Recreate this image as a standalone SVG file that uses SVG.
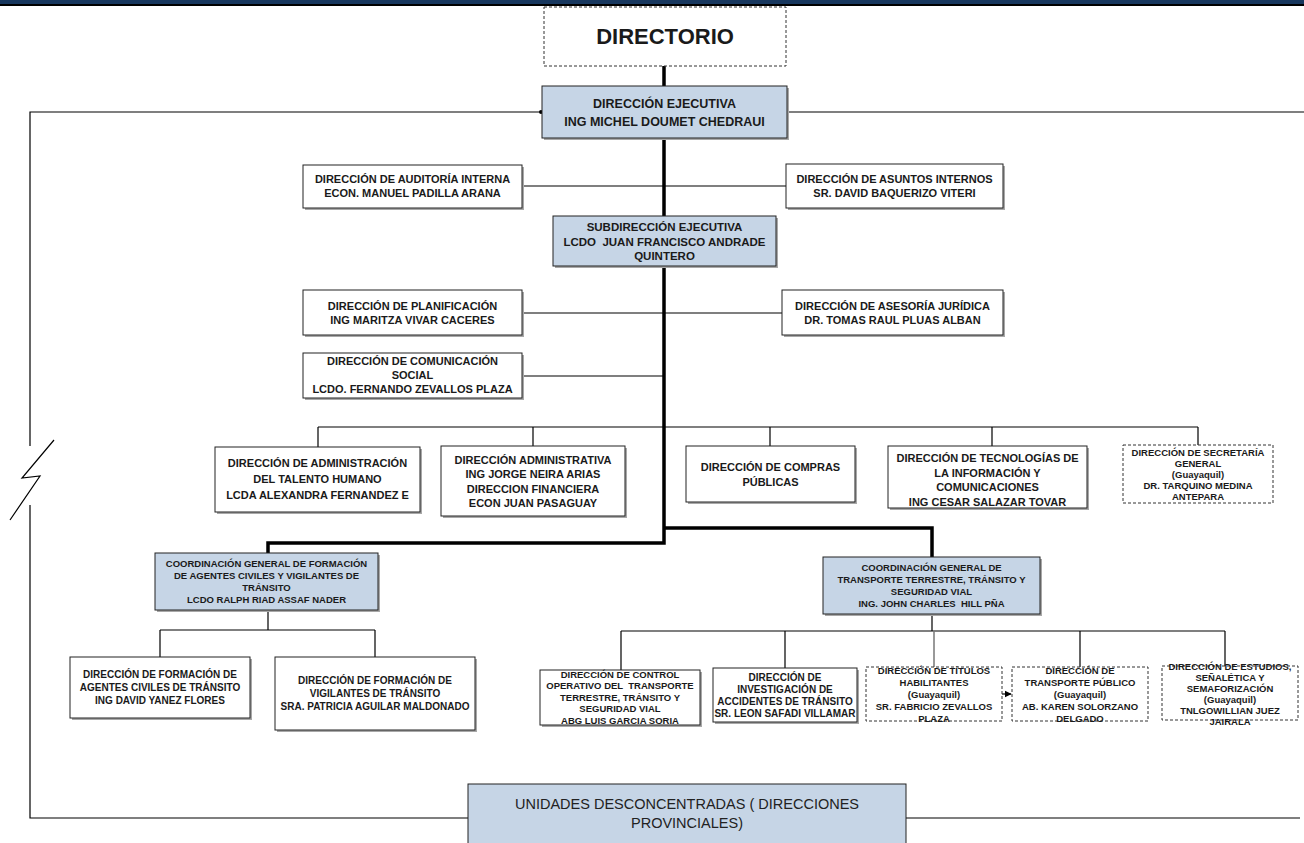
<svg xmlns="http://www.w3.org/2000/svg" width="1304" height="843" viewBox="0 0 1304 843">
<style>
.t{font-family:"Liberation Sans",Arial,sans-serif;font-weight:bold;fill:#1a1a1a;text-anchor:middle}
.s22{font-size:22px}.s125{font-size:12.5px}.s115{font-size:11.5px}.s11{font-size:11px}.s10{font-size:10px}.s95{font-size:9.5px}
.u{font-family:"Liberation Sans",Arial,sans-serif;font-size:14.5px;fill:#222;text-anchor:middle}
.box{fill:#fff;stroke:#222;stroke-width:1}
.blue{fill:#C6D5E6;stroke:#222;stroke-width:1}
.dash{fill:#fff;stroke:#333;stroke-width:1;stroke-dasharray:3 2}
.shd{fill:#a8a8a8}
.ln{stroke:#000;stroke-width:1.2;fill:none}
.gl{stroke:#777;stroke-width:1.5;fill:none}
.thick{stroke:#000;stroke-width:3.5;fill:none}
</style>
<defs>
<marker id="arr" viewBox="0 0 10 10" refX="9" refY="5" markerWidth="6" markerHeight="6" orient="auto"><path d="M0,0 L10,5 L0,10 z" fill="#000"/></marker>
</defs>
<rect x="0" y="0" width="1304" height="4" fill="#17375E"/>
<rect x="0" y="4" width="1304" height="2" fill="#000"/>

<g id="connectors">
<path class="thick" d="M664,66 V86 M664,138 V543 H268 V553 M664,528 H932 V557"/>
<path class="ln" d="M542,112 H30 V446 M54,440 L22,478 L40,476 L10,520 M30,505 V818 H468"/>
<circle cx="541" cy="112" r="2" fill="#000"/>
<path class="ln" d="M787,112 H1304 M906,818 H1300"/>
<path class="ln" d="M522,186 H786 M522,313 H782 M522,376 H664"/>
<path class="ln" d="M318,427 H1198 M318,427 V447 M533,427 V446 M770,427 V446 M992,427 V446 M1198,427 V445"/>
<path class="ln" d="M268,610 V630 M160,630 H375 M160,630 V657 M375,630 V657"/>
<path class="ln" d="M932,614 V631 M621,631 H1225 M621,631 V670 M785,631 V668 M1080,631 V667 M1225,631 V666"/>
<path class="gl" d="M934,631 V667"/>
<path class="ln" d="M1002,694 H1011" marker-end="url(#arr)"/>
</g>

<g id="directorio">
<rect class="dash" x="544" y="7" width="242" height="59"/>
<text class="t s22" x="665" y="44">DIRECTORIO</text>
</g>

<g id="ejecutiva">
<rect class="shd" x="544" y="88" width="245" height="52"/>
<rect class="blue" x="542" y="86" width="245" height="52"/>
<text class="t s125"><tspan x="664.5" y="108">DIRECCIÓN EJECUTIVA</tspan><tspan x="664.5" y="126">ING MICHEL DOUMET CHEDRAUI</tspan></text>
</g>

<g id="auditoria">
<rect class="shd" x="305" y="167" width="219" height="43"/>
<rect class="box" x="303" y="165" width="219" height="43"/>
<text class="t s11"><tspan x="412.5" y="183">DIRECCIÓN DE AUDITORÍA INTERNA</tspan><tspan x="412.5" y="197">ECON. MANUEL PADILLA ARANA</tspan></text>
</g>

<g id="asuntos">
<rect class="shd" x="788" y="166" width="217" height="44"/>
<rect class="box" x="786" y="164" width="217" height="44"/>
<text class="t s11"><tspan x="894.5" y="183">DIRECCIÓN DE ASUNTOS INTERNOS</tspan><tspan x="894.5" y="197">SR. DAVID BAQUERIZO VITERI</tspan></text>
</g>

<g id="subdireccion">
<rect class="shd" x="555" y="218" width="223" height="50"/>
<rect class="blue" x="553" y="216" width="223" height="50"/>
<text class="t s115" xml:space="preserve"><tspan x="664.5" y="231">SUBDIRECCIÓN EJECUTIVA</tspan><tspan x="664.5" y="245.5">LCDO  JUAN FRANCISCO ANDRADE</tspan><tspan x="664.5" y="260">QUINTERO</tspan></text>
</g>

<g id="planificacion">
<rect class="shd" x="305" y="292" width="219" height="45"/>
<rect class="box" x="303" y="290" width="219" height="45"/>
<text class="t s11"><tspan x="412.5" y="309.5">DIRECCIÓN DE PLANIFICACIÓN</tspan><tspan x="412.5" y="323.5">ING MARITZA VIVAR CACERES</tspan></text>
</g>

<g id="asesoria">
<rect class="shd" x="784" y="292" width="221" height="45"/>
<rect class="box" x="782" y="290" width="221" height="45"/>
<text class="t s11"><tspan x="892.5" y="309.5">DIRECCIÓN DE ASESORÍA JURÍDICA</tspan><tspan x="892.5" y="323.5">DR. TOMAS RAUL PLUAS ALBAN</tspan></text>
</g>

<g id="comunicacion">
<rect class="shd" x="305" y="355" width="219" height="45"/>
<rect class="box" x="303" y="353" width="219" height="45"/>
<text class="t s11"><tspan x="412.5" y="365">DIRECCIÓN DE COMUNICACIÓN</tspan><tspan x="412.5" y="379">SOCIAL</tspan><tspan x="412.5" y="393">LCDO. FERNANDO ZEVALLOS PLAZA</tspan></text>
</g>

<g id="talento">
<rect class="shd" x="217" y="449" width="205" height="65"/>
<rect class="box" x="215" y="447" width="205" height="65"/>
<text class="t s11"><tspan x="317.5" y="467">DIRECCIÓN DE ADMINISTRACIÓN</tspan><tspan x="317.5" y="483">DEL TALENTO HUMANO</tspan><tspan x="317.5" y="499">LCDA ALEXANDRA FERNANDEZ E</tspan></text>
</g>

<g id="administrativa">
<rect class="shd" x="443" y="448" width="184" height="70"/>
<rect class="box" x="441" y="446" width="184" height="70"/>
<text class="t s11"><tspan x="533" y="463.5">DIRECCIÓN ADMINISTRATIVA</tspan><tspan x="533" y="478">ING JORGE NEIRA ARIAS</tspan><tspan x="533" y="492.5">DIRECCION FINANCIERA</tspan><tspan x="533" y="507">ECON JUAN PASAGUAY</tspan></text>
</g>

<g id="compras">
<rect class="shd" x="688" y="448" width="169" height="56"/>
<rect class="box" x="686" y="446" width="169" height="56"/>
<text class="t s11"><tspan x="770.5" y="470.5">DIRECCIÓN DE COMPRAS</tspan><tspan x="770.5" y="485.5">PÚBLICAS</tspan></text>
</g>

<g id="tic">
<rect class="shd" x="890" y="448" width="199" height="62"/>
<rect class="box" x="888" y="446" width="199" height="62"/>
<text class="t s11"><tspan x="987.5" y="462">DIRECCIÓN DE TECNOLOGÍAS DE</tspan><tspan x="987.5" y="476.5">LA INFORMACIÓN Y</tspan><tspan x="987.5" y="491">COMUNICACIONES</tspan><tspan x="987.5" y="505.5">ING CESAR SALAZAR TOVAR</tspan></text>
</g>

<g id="secretaria">
<rect class="dash" x="1123" y="445" width="150" height="58"/>
<text class="t s95"><tspan x="1198" y="455.5">DIRECCIÓN DE SECRETARÍA</tspan><tspan x="1198" y="466.5">GENERAL</tspan><tspan x="1198" y="477.5">(Guayaquil)</tspan><tspan x="1198" y="488.5">DR. TARQUINO MEDINA</tspan><tspan x="1198" y="499.5">ANTEPARA</tspan></text>
</g>

<g id="coord-formacion">
<rect class="shd" x="157" y="555" width="223" height="57"/>
<rect class="blue" x="155" y="553" width="223" height="57"/>
<text class="t s95"><tspan x="266.5" y="566.5">COORDINACIÓN GENERAL DE FORMACIÓN</tspan><tspan x="266.5" y="578.5">DE AGENTES CIVILES Y VIGILANTES DE</tspan><tspan x="266.5" y="590.5">TRÁNSITO</tspan><tspan x="266.5" y="602.5">LCDO RALPH RIAD ASSAF NADER</tspan></text>
</g>

<g id="agentes">
<rect class="shd" x="72" y="659" width="180" height="61"/>
<rect class="box" x="70" y="657" width="180" height="61"/>
<text class="t s10"><tspan x="160" y="678">DIRECCIÓN DE FORMACIÓN DE</tspan><tspan x="160" y="691">AGENTES CIVILES DE TRÁNSITO</tspan><tspan x="160" y="704">ING DAVID YANEZ FLORES</tspan></text>
</g>

<g id="vigilantes">
<rect class="shd" x="277" y="659" width="200" height="73"/>
<rect class="box" x="275" y="657" width="200" height="73"/>
<text class="t s10"><tspan x="375" y="684">DIRECCIÓN DE FORMACIÓN DE</tspan><tspan x="375" y="697">VIGILANTES DE TRÁNSITO</tspan><tspan x="375" y="710">SRA. PATRICIA AGUILAR MALDONADO</tspan></text>
</g>

<g id="coord-transporte">
<rect class="shd" x="825" y="559" width="217" height="57"/>
<rect class="blue" x="823" y="557" width="217" height="57"/>
<text class="t s95" xml:space="preserve"><tspan x="931.5" y="571">COORDINACIÓN GENERAL DE</tspan><tspan x="931.5" y="583">TRANSPORTE TERRESTRE, TRÁNSITO Y</tspan><tspan x="931.5" y="595">SEGURIDAD VIAL</tspan><tspan x="931.5" y="607">ING. JOHN CHARLES  HILL PÑA</tspan></text>
</g>

<g id="control">
<rect class="shd" x="542" y="672" width="160" height="55"/>
<rect class="box" x="540" y="670" width="160" height="55"/>
<text class="t s95" xml:space="preserve"><tspan x="620" y="677.5">DIRECCIÓN DE CONTROL</tspan><tspan x="620" y="689">OPERATIVO DEL  TRANSPORTE</tspan><tspan x="620" y="700.5">TERRESTRE, TRÁNSITO Y</tspan><tspan x="620" y="712">SEGURIDAD VIAL</tspan><tspan x="620" y="723.5">ABG LUIS GARCIA SORIA</tspan></text>
</g>

<g id="investigacion">
<rect class="shd" x="715" y="670" width="144" height="54"/>
<rect class="box" x="713" y="668" width="144" height="54"/>
<text class="t s10"><tspan x="785" y="680.5">DIRECCIÓN DE</tspan><tspan x="785" y="692.5">INVESTIGACIÓN DE</tspan><tspan x="785" y="704.5">ACCIDENTES DE TRÁNSITO</tspan><tspan x="785" y="716.5">SR. LEON SAFADI VILLAMAR</tspan></text>
</g>

<g id="titulos">
<rect class="dash" x="866" y="667" width="136" height="54"/>
<text class="t s95"><tspan x="934" y="673.5">DIRECCIÓN DE TÍTULOS</tspan><tspan x="934" y="685.5">HABILITANTES</tspan><tspan x="934" y="697.5">(Guayaquil)</tspan><tspan x="934" y="709.5">SR. FABRICIO ZEVALLOS</tspan><tspan x="934" y="721.5">PLAZA</tspan></text>
</g>

<g id="transporte-publico">
<rect class="dash" x="1012" y="667" width="136" height="54"/>
<text class="t s95"><tspan x="1080" y="673.5">DIRECCIÓN DE</tspan><tspan x="1080" y="685.5">TRANSPORTE PÚBLICO</tspan><tspan x="1080" y="697.5">(Guayaquil)</tspan><tspan x="1080" y="709.5">AB. KAREN SOLORZANO</tspan><tspan x="1080" y="721.5">DELGADO</tspan></text>
</g>

<g id="estudios">
<rect class="dash" x="1162" y="666" width="136" height="54"/>
<text class="t s95"><tspan x="1230" y="669.5">DIRECCIÓN DE ESTUDIOS,</tspan><tspan x="1230" y="680.5">SEÑALÉTICA Y</tspan><tspan x="1230" y="691.5">SEMAFORIZACIÓN</tspan><tspan x="1230" y="702.5">(Guayaquil)</tspan><tspan x="1230" y="713.5">TNLGOWILLIAN JUEZ</tspan><tspan x="1230" y="724.5">JAIRALA</tspan></text>
</g>

<g id="unidades">
<rect class="blue" x="468" y="784" width="438" height="70"/>
<text class="u"><tspan x="687" y="809">UNIDADES DESCONCENTRADAS ( DIRECCIONES</tspan><tspan x="687" y="828">PROVINCIALES)</tspan></text>
</g>
</svg>
